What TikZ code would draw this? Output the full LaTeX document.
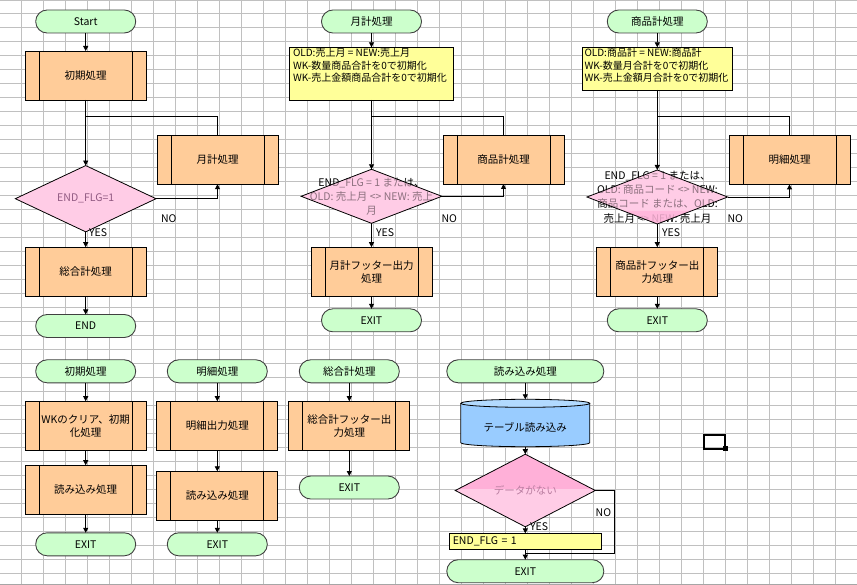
\documentclass[tikz,border=0pt]{standalone}
\usepackage{fontspec}
\setmainfont{Noto Sans CJK JP}
\usetikzlibrary{shapes.geometric,arrows.meta}
\definecolor{gridc}{RGB}{192,192,192}
\definecolor{termc}{RGB}{204,255,204}
\definecolor{procc}{RGB}{255,204,153}
\definecolor{yelc}{RGB}{255,255,153}
\definecolor{cylc}{RGB}{153,204,255}
\definecolor{cyltop}{RGB}{178,218,255}
\definecolor{diac}{RGB}{255,204,230}
\definecolor{diadark}{RGB}{255,176,216}
\definecolor{diatext}{RGB}{145,90,130}
\definecolor{diatext2}{RGB}{185,125,160}
\tikzset{
  base/.style={inner sep=0pt, outer sep=0pt, font=\fontsize{10.5}{13}\selectfont},
  term/.style={base, rectangle, rounded corners=11.4pt, draw=black!75, line width=0.9pt, fill=termc, minimum width=100pt, minimum height=23pt},
  proc/.style={base, rectangle, draw=black, line width=0.8pt, fill=procc, minimum width=121pt, minimum height=49pt, align=center,
    path picture={\draw[line width=0.8pt] ([xshift=14pt]path picture bounding box.north west) -- ([xshift=14pt]path picture bounding box.south west);
                  \draw[line width=0.8pt] ([xshift=-14pt]path picture bounding box.north east) -- ([xshift=-14pt]path picture bounding box.south east);}},
  dia/.style={base, diamond, fill=diac, minimum width=140.7pt, minimum height=54pt},
  dtext/.style={base, align=center, font=\fontsize{10.5}{14}\selectfont},
  note/.style={base, rectangle, draw=black, line width=0.8pt, fill=yelc},
  ntext/.style={base, align=left, anchor=north west, font=\fontsize{10}{12.5}\selectfont},
  lbl/.style={base, anchor=west},
  conn/.style={draw=black, line width=0.8pt},
  arr/.style={conn, -{Triangle[length=5pt,width=5pt]}},
  border/.style={draw=black, line width=0.8pt, line join=miter}
}
\begin{document}
\begin{tikzpicture}[x=1pt,y=-1pt]
\useasboundingbox (0,0) rectangle (857,585);
\fill[white] (0,0) rectangle (857,585);
\foreach \k in {1,...,38} \draw[gridc, line width=0.75pt] ({22*\k-1},0) -- ({22*\k-1},585);
\foreach \k in {1,...,41} \draw[gridc, line width=0.75pt] (0,{14*\k-0.7}) -- (857,{14*\k-0.7});
\draw[gridc, line width=0.75pt] (0,0.5) -- (857,0.5);
\draw[black!35, line width=1.2pt] (0,584.2) -- (857,584.2);

% ---------- main flow ----------
\node[term] (s1) at (85.7,21.5) {Start};
\node[proc] (p1) at (85.7,75.5) {初期処理};
\node[dia, text=diatext] (d1) at (85.7,198.7) {END\_FLG=1};
\node[proc] (p2) at (217.5,159.7) {月計処理};
\node[proc] (p3) at (85.7,271.7) {総合計処理};
\node[term] (e1) at (85.7,326) {END};
\coordinate (j1) at (85.7,116.3);
\draw[arr] (s1.south) -- (p1.north);
\draw[arr] (p1.south) -- (d1.north);
\draw[conn] (p2.north) |- (j1);
\draw[arr] (d1.east) -| (p2.south);
\draw[arr] (d1.south) -- (p3.north);
\draw[arr] (p3.south) -- (e1.north);
\draw[border] (d1.north) -- (d1.east) -- (d1.south) -- (d1.west) -- cycle;
\node[lbl] (no1) at (161,219) {NO};
\node[lbl] (yes1) at (89,232.5) {YES};

% ---------- 月計処理 ----------
\node[term] (t2) at (371.5,21.5) {月計処理};
\node[note, minimum width=163.7pt, minimum height=52.7pt] (n2) at (371.5,73.65) {};
\node[ntext] (n2t) at (293,48.5) {OLD:売上月 = NEW:売上月\\WK-数量商品合計を0で初期化\\WK-売上金額商品合計を0で初期化};
\node[dia] (d2) at (371.5,196.3) {};
\node[dtext] (d2t) at (371.5,196.7) {END\_FLG = 1 または、\\OLD: 売上月 <> NEW: 売上\\月};
\fill[diac, fill opacity=0.55] (d2.north) -- (d2.east) -- (d2.south) -- (d2.west) -- cycle;
\draw[border] (d2.north) -- (d2.east) -- (d2.south) -- (d2.west) -- cycle;
\node[proc] (p4) at (503.5,159.5) {商品計処理};
\node[proc] (p5) at (371.5,271.7) {月計フッター出力\\処理};
\node[term] (x2) at (371.5,320.3) {EXIT};
\coordinate (j2) at (371.5,116.3);
\draw[arr] (t2.south) -- (n2.north);
\draw[arr] (n2.south) -- (d2.north);
\draw[conn] (p4.north) |- (j2);
\draw[arr] (d2.east) -| (p4.south);
\draw[arr] (d2.south) -- (p5.north);
\draw[arr] (p5.south) -- (x2.north);
\node[lbl] (no2) at (441.5,219) {NO};
\node[lbl] (yes2) at (376,232.5) {YES};

% ---------- 商品計処理 ----------
\node[term] (t3) at (657.3,21.5) {商品計処理};
\node[note, minimum width=150.6pt, minimum height=42.7pt] (n3) at (657.3,68.65) {};
\node[ntext] (n3t) at (584.5,48.5) {OLD:商品計 = NEW:商品計\\WK-数量月合計を0で初期化\\WK-売上金額月合計を0で初期化};
\node[dia] (d3) at (657.3,197) {};
\node[dtext, font=\fontsize{10.5}{14.2}\selectfont] (d3t) at (657.5,197) {END\_FLG = 1 または、\\OLD: 商品コード <> NEW:\\商品コード または、OLD:\\売上月 <> NEW: 売上月};
\fill[diac, fill opacity=0.55] (d3.north) -- (d3.east) -- (d3.south) -- (d3.west) -- cycle;
\fill[diadark, fill opacity=0.7] (623.4,211) -- (691.2,211) -- (d3.south) -- cycle;
\draw[border] (d3.north) -- (d3.east) -- (d3.south) -- (d3.west) -- cycle;
\node[proc] (p6) at (789.5,159.9) {明細処理};
\node[proc] (p7) at (657.3,271.7) {商品計フッター出\\力処理};
\node[term] (x3) at (657.3,320.3) {EXIT};
\coordinate (j3) at (657.3,116.3);
\draw[arr] (t3.south) -- (n3.north);
\draw[arr] (n3.south) -- (d3.north);
\draw[conn] (p6.north) |- (j3);
\draw[arr] (d3.east) -| (p6.south);
\draw[arr] (d3.south) -- (p7.north);
\draw[arr] (p7.south) -- (x3.north);
\node[lbl] (no3) at (727.5,218.5) {NO};
\node[lbl] (yes3) at (662,232.5) {YES};

% ---------- 初期処理 ----------
\node[term] (t4) at (85.7,371.3) {初期処理};
\node[proc] (p8) at (85.7,425.7) {WKのクリア、初期\\化処理};
\node[proc] (p9) at (85.7,489.7) {読み込み処理};
\node[term] (x4) at (85.7,544.3) {EXIT};
\draw[arr] (t4.south) -- (p8.north);
\draw[arr] (p8.south) -- (p9.north);
\draw[arr] (p9.south) -- (x4.north);

% ---------- 明細処理 ----------
\node[term] (t5) at (217.3,371.3) {明細処理};
\node[proc] (p10) at (217.3,425.7) {明細出力処理};
\node[proc] (p11) at (217.3,495.8) {読み込み処理};
\node[term] (x5) at (217.3,544.3) {EXIT};
\draw[arr] (t5.south) -- (p10.north);
\draw[arr] (p10.south) -- (p11.north);
\draw[arr] (p11.south) -- (x5.north);

% ---------- 総合計処理 ----------
\node[term] (t6) at (349.3,371.3) {総合計処理};
\node[proc] (p12) at (349.3,425.7) {総合計フッター出\\力処理};
\node[term] (x6) at (349.3,487.5) {EXIT};
\draw[arr] (t6.south) -- (p12.north);
\draw[arr] (p12.south) -- (x6.north);

% ---------- 読み込み処理 ----------
\node[term, minimum width=157pt] (t7) at (525.3,371.3) {読み込み処理};
\fill[cylc] (460.8,403.3) -- (460.8,442.7) arc[start angle=180, end angle=0, x radius=64.5, y radius=4] -- (589.8,403.3) -- cycle;
\draw[border] (460.8,403.3) -- (460.8,442.7) arc[start angle=180, end angle=0, x radius=64.5, y radius=4] -- (589.8,403.3);
\filldraw[fill=cyltop, draw=black, line width=0.8pt] (525.3,403.3) ellipse [x radius=64.5, y radius=4];
\node[base, minimum width=129pt, minimum height=47.4pt, text height=16pt, text depth=0pt] (c1) at (525.3,423) {テーブル読み込み};
\node[dia, minimum width=140pt, minimum height=54.4pt, text=diatext2,
  path picture={\fill[diadark] (path picture bounding box.north west) rectangle ([yshift=2pt]path picture bounding box.east);}] (d4) at (525.3,490.5) {データがない};
\draw[border] (d4.north) -- (d4.east) -- (d4.south) -- (d4.west) -- cycle;
\node[note, inner xsep=3.2pt, text width=145pt, align=left, minimum height=15.7pt] (y3) at (525.3,541.2) {END\_FLG = 1};
\node[term, minimum width=157pt] (x7) at (525.3,571.2) {EXIT};
\coordinate (k1) at (614.3,553.3);
\coordinate (k2) at (525.3,553.3);
\draw[arr] (t7.south) -- (c1.north);
\draw[arr] (c1.south) -- (d4.north);
\draw[arr] (d4.south) -- (y3.north);
\draw[arr] (y3.south) -- (x7.north);
\draw[conn] (d4.east) -| (k1) -- (k2);
\node[lbl] (no4) at (595.7,512.3) {NO};
\node[lbl] (yes4) at (530,526.7) {YES};

% ---------- cell selection marker ----------
\draw[line width=2pt] (703.5,434.8) rectangle (725.3,448.5);
\fill (722.5,445.8) rectangle (728,451);
\end{tikzpicture}
\end{document}
